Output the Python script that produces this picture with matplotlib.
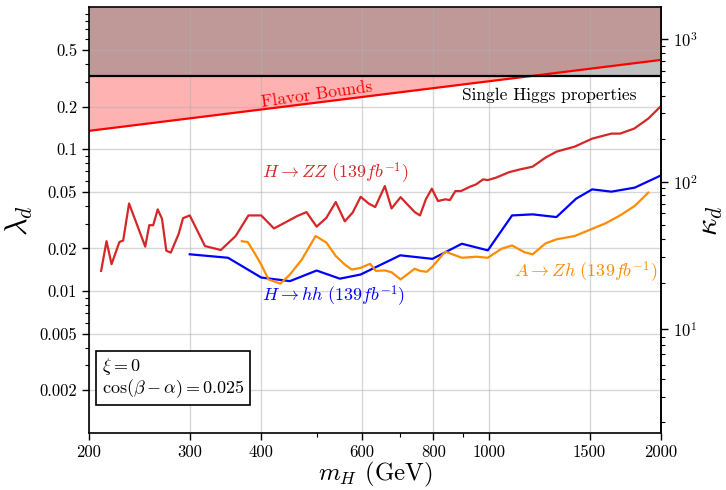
import matplotlib
matplotlib.use('Agg')
import matplotlib.pyplot as plt
from matplotlib.ticker import FixedLocator, NullFormatter, LogLocator
import numpy as np

plt.rcParams['font.family'] = 'serif'
plt.rcParams['font.serif'] = ['cmr10']
plt.rcParams['mathtext.fontset'] = 'cm'
plt.rcParams['axes.formatter.use_mathtext'] = True

# H -> ZZ limit
zz_mass = [210, 214.6, 219, 226, 229.5, 235, 250.8, 254.9, 259, 263.7, 268.3, 273, 278, 287, 292,
           300, 319, 340, 361, 380, 400, 421, 440, 462, 480, 500, 520, 540, 560, 578, 597, 617,
           633, 658, 676, 701, 742, 758, 776, 795, 815, 839, 855, 874, 894, 927, 950, 977, 996,
           1030, 1086, 1134, 1193, 1256, 1313, 1413, 1516, 1638, 1696, 1795, 1900, 2000]
zz_lambda = [0.0139, 0.0225, 0.0155, 0.0222, 0.0228, 0.0415, 0.0206, 0.0292, 0.0292, 0.0377,
             0.0324, 0.0193, 0.0187, 0.0254, 0.0327, 0.0342, 0.0208, 0.0195, 0.0245, 0.0342,
             0.0342, 0.0277, 0.0304, 0.0338, 0.0361, 0.0285, 0.0329, 0.0425, 0.0311, 0.0358,
             0.0463, 0.0414, 0.0392, 0.0551, 0.0383, 0.0460, 0.0361, 0.0342, 0.0444, 0.0528,
             0.0432, 0.0444, 0.0439, 0.0508, 0.0508, 0.0545, 0.0566, 0.0614, 0.0607, 0.0632,
             0.0691, 0.0722, 0.0755, 0.0874, 0.0963, 0.1045, 0.1190, 0.1291, 0.1291, 0.1400,
             0.1647, 0.2020]

# H -> hh limit
hh_mass = [300, 350, 400, 449, 500, 549, 597, 700, 797, 897, 996, 1098, 1193, 1313, 1421,
           1516, 1638, 1799, 2000]
hh_lambda = [0.0182, 0.0172, 0.01248, 0.01177, 0.01398, 0.01225, 0.01311, 0.0179, 0.0169,
             0.0216, 0.0194, 0.0342, 0.0348, 0.0333, 0.0449, 0.0522, 0.0503, 0.0537, 0.0655]

# A -> Zh limit
zh_mass = [370, 379, 389, 400, 412, 432, 449, 471, 498, 520, 540, 560, 576, 597, 620, 635,
           658, 676, 701, 742, 758, 779, 797, 839, 897, 950, 996, 1052, 1098, 1155, 1193,
           1256, 1313, 1413, 1516, 1600, 1696, 1799, 1900]
zh_lambda = [0.0225, 0.0222, 0.0187, 0.0154, 0.0121, 0.0113, 0.0131, 0.0167, 0.0245, 0.0220,
             0.0177, 0.0154, 0.0142, 0.0146, 0.0156, 0.0139, 0.0140, 0.0136, 0.0121, 0.0144,
             0.0139, 0.0137, 0.0149, 0.0190, 0.0172, 0.0175, 0.0172, 0.0199, 0.0210, 0.0188,
             0.0182, 0.0217, 0.0232, 0.0245, 0.0275, 0.0301, 0.0342, 0.0399, 0.0495]

# bounds
flavor_mass = [200, 2000]
flavor_lambda = [0.135, 0.427]
higgs_mass = [200, 2000]
higgs_lambda = [0.33, 0.33]

x_ticks = [200, 300, 400, 600, 800, 1000, 1500, 2000]
x_minor = [500, 700, 900]
y_ticks = [0.002, 0.005, 0.01, 0.02, 0.05, 0.1, 0.2, 0.5]
y_labels = ['0.002', '0.005', '0.01', '0.02', '0.05', '0.1', '0.2', '0.5']
kappa_ticks = [10, 100, 1000]

KAPPA_SCALE = 1670.0


def to_kappa(lam):
    return 1 + KAPPA_SCALE * np.asarray(lam)


def to_lambda(kap):
    return np.maximum(np.asarray(kap) - 1, 1e-9) / KAPPA_SCALE


fig = plt.figure(figsize=(7.26, 4.9), dpi=100)
ax = fig.add_axes([0.1226, 0.1163, 0.7879, 0.8684])
ax.set_xscale('log')
ax.set_yscale('log')
ax.set_xlim(200, 2000)
ax.set_ylim(0.001, 1)

ax.fill_between(flavor_mass, flavor_lambda, 1, color='red', alpha=0.3, lw=0)
ax.fill_between(higgs_mass, higgs_lambda, 1, color='gray', alpha=0.5, lw=0)
ax.plot(flavor_mass, flavor_lambda, color='red', lw=1.6)
ax.plot(higgs_mass, higgs_lambda, color='black', lw=1.6)

ax.plot(zz_mass, zz_lambda, color='#d62728', lw=1.6)
ax.plot(hh_mass, hh_lambda, color='blue', lw=1.6)
ax.plot(zh_mass, zh_lambda, color='darkorange', lw=1.6)

ax.text(500, 0.244, 'Flavor Bounds', color='red', fontsize=12.5, rotation=8,
        ha='center', va='center', rotation_mode='anchor')
ax.text(898, 0.2405, 'Single Higgs properties', color='black', fontsize=12.5,
        ha='left', va='center')
ax.text(401, 0.0677, r'$H\rightarrow ZZ\ (139fb^{-1})$', color='#d62728', fontsize=13,
        ha='left', va='center')
ax.text(401, 0.00918, r'$H\rightarrow hh\ (139fb^{-1})$', color='blue', fontsize=13,
        ha='left', va='center')
ax.text(1968, 0.01355, r'$A\rightarrow Zh\ (139fb^{-1})$', color='darkorange', fontsize=13,
        ha='right', va='center')

ax.text(0.022, 0.13, '$\\xi = 0$\n$\\cos(\\beta - \\alpha) = 0.025$',
        transform=ax.transAxes, fontsize=13, ha='left', va='center', linespacing=1.0,
        bbox=dict(boxstyle='square,pad=0.3', fc='white', ec='black', lw=1.2))

ax.xaxis.set_major_locator(FixedLocator(x_ticks))
ax.set_xticklabels([str(t) for t in x_ticks])
ax.xaxis.set_minor_locator(FixedLocator(x_minor))
ax.xaxis.set_minor_formatter(NullFormatter())
ax.yaxis.set_major_locator(FixedLocator(y_ticks))
ax.set_yticklabels(y_labels)
ax.yaxis.set_minor_locator(LogLocator(subs=np.arange(2, 10)))
ax.yaxis.set_minor_formatter(NullFormatter())

ax.grid(True, which='major', color='#b0b0b0', alpha=0.5, lw=1.0)
ax.tick_params(labelsize=12, length=5, width=1.0)
ax.tick_params(which='minor', length=3, width=0.8)
for s in ax.spines.values():
    s.set_linewidth(1.2)

ax.set_xlabel(r'$m_H$ (GeV)', fontsize=18, labelpad=0)
ax.set_ylabel(r'$\lambda_d$', fontsize=22, labelpad=3)

sec = ax.secondary_yaxis('right', functions=(to_kappa, to_lambda))
sec.yaxis.set_major_locator(FixedLocator(kappa_ticks))
sec.yaxis.set_minor_formatter(NullFormatter())
sec.tick_params(labelsize=12, length=5, width=1.0)
sec.tick_params(which='minor', length=3, width=0.8)
sec.set_ylabel(r'$\kappa_d$', fontsize=22, labelpad=0)
sec.spines['right'].set_linewidth(1.2)

fig.savefig('out.png', dpi=100)
